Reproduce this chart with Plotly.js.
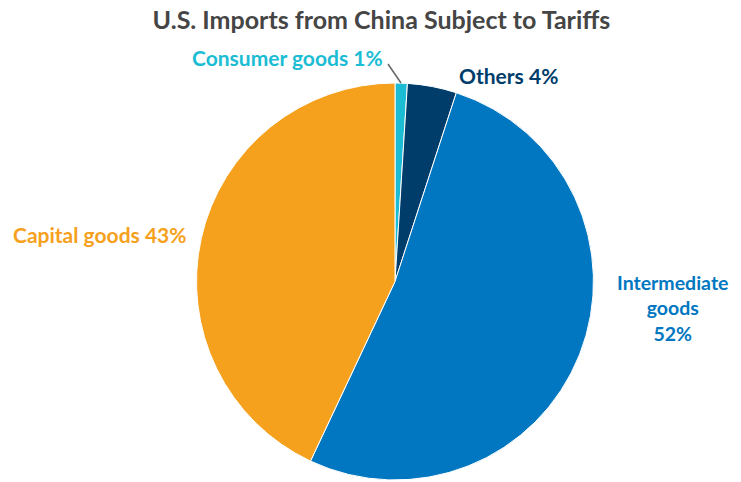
<!DOCTYPE html>
<html>
<head>
<meta charset="utf-8">
<script src="https://cdn.plot.ly/plotly-3.0.1.min.js"></script>
<style>html,body{margin:0;padding:0;background:#fff;}#chart{width:741px;height:482px;}</style>
</head>
<body>
<div id="chart"></div>
<script>
const categories = ["Consumer goods", "Others", "Intermediate goods", "Capital goods"];
const shares = [1, 4, 52, 43];
const labelTexts = ["Consumer goods 1%", "Others 4%", "Intermediate<br>goods<br>52%", "Capital goods 43%"];
const colors = ["#1BBCD4", "#003D6B", "#0077C0", "#F6A11D"];

const trace = {
  type: "pie",
  labels: categories,
  values: shares,
  textinfo: "none",
  sort: false,
  direction: "clockwise",
  rotation: 0,
  hole: 0,
  marker: {colors: colors, line: {color: "#ffffff", width: 1}},
  automargin: false,
  showlegend: false,
  domain: {x: [0.2652, 0.8009], y: [0, 1]}
};

// label placement (paper coordinates) for each category
const labelPos = [
  {x: 0.5196, y: 1.063, xanchor: "right", size: 21},
  {x: 0.6167, y: 1.020, xanchor: "left", size: 21},
  {x: 0.9082, y: 0.433, xanchor: "center", size: 19.5},
  {x: 0.2537, y: 0.619, xanchor: "right", size: 21}
];

const annotations = labelTexts.map((t, i) => ({
  text: "<b>" + t + "</b>",
  xref: "paper", yref: "paper",
  x: labelPos[i].x, y: labelPos[i].y,
  xanchor: labelPos[i].xanchor, yanchor: "middle",
  align: "center",
  showarrow: false,
  font: {family: "Lato, sans-serif", size: labelPos[i].size, color: colors[i]}
}));

const layout = {
  width: 741,
  height: 482,
  margin: {l: 0, r: 0, t: 83, b: 2},
  paper_bgcolor: "#ffffff",
  title: {
    text: "<b>U.S. Imports from China Subject to Tariffs</b>",
    font: {family: "Lato, sans-serif", size: 25, color: "#454545"},
    x: 0.5148, xanchor: "center", y: 0.958, yanchor: "middle"
  },
  annotations: annotations,
  shapes: [{
    type: "line", xref: "paper", yref: "paper",
    x0: 388 / 741, y0: (480 - 64) / 397, x1: 401 / 741, y1: (480 - 83) / 397,
    line: {color: "#666666", width: 1.5}
  }],
  showlegend: false
};

Plotly.newPlot("chart", [trace], layout, {displayModeBar: false, staticPlot: true});
</script>
</body>
</html>
